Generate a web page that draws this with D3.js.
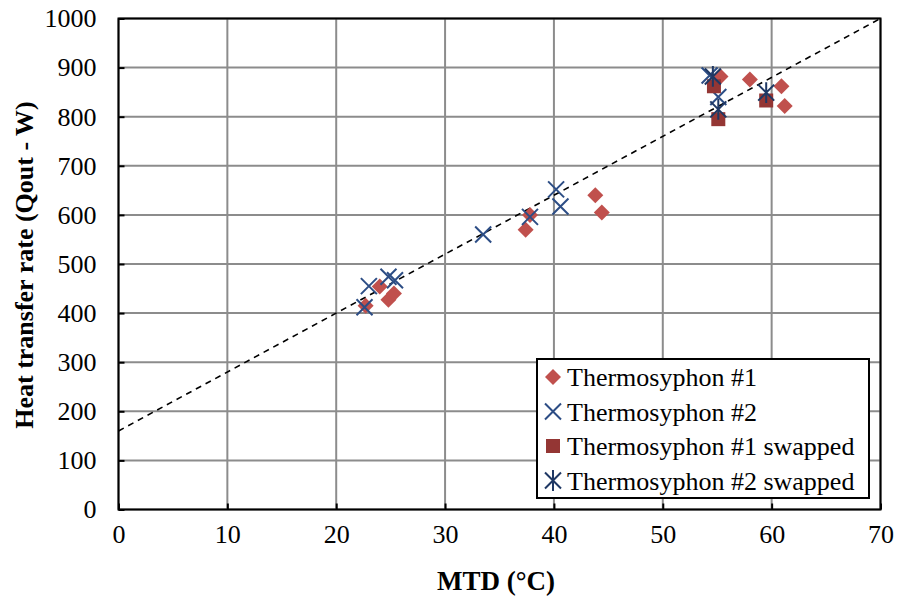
<!DOCTYPE html>
<meta charset="utf-8">
<script src="https://d3js.org/d3.v7.min.js"></script>
<style>
  body { margin: 0; background: #fff; }
  text { font-family: "Liberation Serif", "Times New Roman", serif; fill: #000; }
</style>
<div id="chart"></div>
<script>
// data: [MTD (°C), Q (W)]
var thermo1 = [[22.7,415],[24.0,454],[24.8,427],[25.3,440],[37.4,570],[37.8,600],
               [43.8,640],[44.4,605],[55.3,882],[58.0,876],[60.9,862],[61.2,822]];
var thermo2 = [[22.6,412],[23.0,455],[24.8,474],[25.4,467],[33.5,560],[37.8,596],
               [40.2,652],[40.6,617],[54.3,884],[55.1,840]];
var thermo1Swapped = [[54.7,862],[55.1,795],[59.5,833]];
var thermo2Swapped = [[54.6,882],[55.1,815],[59.5,849]];
var seriesNames = ["Thermosyphon #1", "Thermosyphon #2", "Thermosyphon #1 swapped", "Thermosyphon #2 swapped"];
// trend line y = 12x + 160
var trendSlope = 12, trendIntercept = 160;
var xTicks = [0,10,20,30,40,50,60,70];
var yTicks = [0,100,200,300,400,500,600,700,800,900,1000];

var W = 897, H = 599;
var margin = {top: 18.5, right: 16.5, bottom: 89.5, left: 118.5};
var width = W - margin.left - margin.right,
    height = H - margin.top - margin.bottom;

var svg = d3.select("#chart").append("svg")
    .attr("width", W).attr("height", H);
var g = svg.append("g")
    .attr("transform", "translate(" + margin.left + "," + margin.top + ")");

var x = d3.scaleLinear().domain([0, 70]).range([0, width]);
var y = d3.scaleLinear().domain([0, 1000]).range([height, 0]);

// grid
g.selectAll(".gx").data(xTicks).enter().append("line")
    .attr("x1", d => x(d)).attr("x2", d => x(d))
    .attr("y1", 0).attr("y2", height)
    .attr("stroke", "#8c8c8c").attr("stroke-width", 2);
g.selectAll(".gy").data(yTicks).enter().append("line")
    .attr("x1", 0).attr("x2", width)
    .attr("y1", d => y(d)).attr("y2", d => y(d))
    .attr("stroke", "#8c8c8c").attr("stroke-width", 2);

// axes
var xAxis = g.append("g").attr("transform", "translate(0," + height + ")")
    .call(d3.axisBottom(x).tickValues(xTicks).tickFormat(d3.format("d"))
      .tickSizeInner(-6).tickSizeOuter(0).tickPadding(15));
var yAxis = g.append("g")
    .call(d3.axisLeft(y).tickValues(yTicks).tickFormat(d3.format("d"))
      .tickSizeInner(-6).tickSizeOuter(0).tickPadding(22));
[xAxis, yAxis].forEach(function(a) {
  a.attr("font-family", "Liberation Serif").attr("font-size", 26);
  a.select(".domain").remove();
  a.selectAll("line").attr("stroke", "#000").attr("stroke-width", 2);
  a.selectAll("text").style("font-family", "Liberation Serif").style("font-size", "26px");
});

// plot border
g.append("rect").attr("width", width).attr("height", height)
    .attr("fill", "none").attr("stroke", "#000").attr("stroke-width", 2);

// trend line
g.append("line")
    .attr("x1", x(0)).attr("y1", y(trendIntercept))
    .attr("x2", x(70)).attr("y2", y(trendIntercept + trendSlope * 70))
    .attr("stroke", "#000").attr("stroke-width", 1.6)
    .attr("stroke-dasharray", "6,5");

// markers
var red = "#c0504d", blue = "#2c4d85", darkRed = "#943634", darkBlue = "#1f3864";
function diamond(sel, s) {
  sel.append("path").attr("d", "M0," + (-s) + "L" + s + ",0L0," + s + "L" + (-s) + ",0Z")
     .attr("fill", red);
}
function cross(sel, s) {
  sel.append("path").attr("d", "M" + (-s) + "," + (-s) + "L" + s + "," + s + "M" + (-s) + "," + s + "L" + s + "," + (-s))
     .attr("stroke", blue).attr("stroke-width", 2).attr("fill", "none");
}
function square(sel, s) {
  sel.append("rect").attr("x", -s).attr("y", -s).attr("width", 2 * s).attr("height", 2 * s)
     .attr("fill", darkRed);
}
function star(sel, s) {
  sel.append("path").attr("d", "M" + (-s) + "," + (-s) + "L" + s + "," + s + "M" + (-s) + "," + s + "L" + s + "," + (-s) + "M0," + (-s * 1.3) + "L0," + (s * 1.3))
     .attr("stroke", darkBlue).attr("stroke-width", 2).attr("fill", "none");
}

var seriesList = [
  {data: thermo1, draw: diamond, size: 8},
  {data: thermo2, draw: cross, size: 8},
  {data: thermo1Swapped, draw: square, size: 7},
  {data: thermo2Swapped, draw: star, size: 8}
];
seriesList.forEach(function(s) {
  g.selectAll(null).data(s.data).enter().append("g")
    .attr("transform", d => "translate(" + x(d[0]) + "," + y(d[1]) + ")")
    .each(function() { s.draw(d3.select(this), s.size); });
});

// legend
var legend = svg.append("g").attr("transform", "translate(537,359)");
legend.append("rect").attr("width", 332).attr("height", 139)
    .attr("fill", "#fff").attr("stroke", "#000").attr("stroke-width", 2);
seriesList.forEach(function(s, i) {
  var row = legend.append("g").attr("transform", "translate(0," + (18 + i * 34.5) + ")");
  var m = row.append("g").attr("transform", "translate(16,0)");
  s.draw(m, s.size);
  row.append("text").attr("x", 30).attr("y", 9)
    .style("font-size", "26px").text(seriesNames[i]);
});

// axis titles
svg.append("text").attr("x", 496).attr("y", 590).attr("text-anchor", "middle")
    .style("font-size", "27px").style("font-weight", "bold").text("MTD (°C)");
svg.append("text").attr("transform", "translate(33,265) rotate(-90)").attr("text-anchor", "middle")
    .style("font-size", "26px").style("font-weight", "bold").text("Heat transfer rate (Qout - W)");
</script>
